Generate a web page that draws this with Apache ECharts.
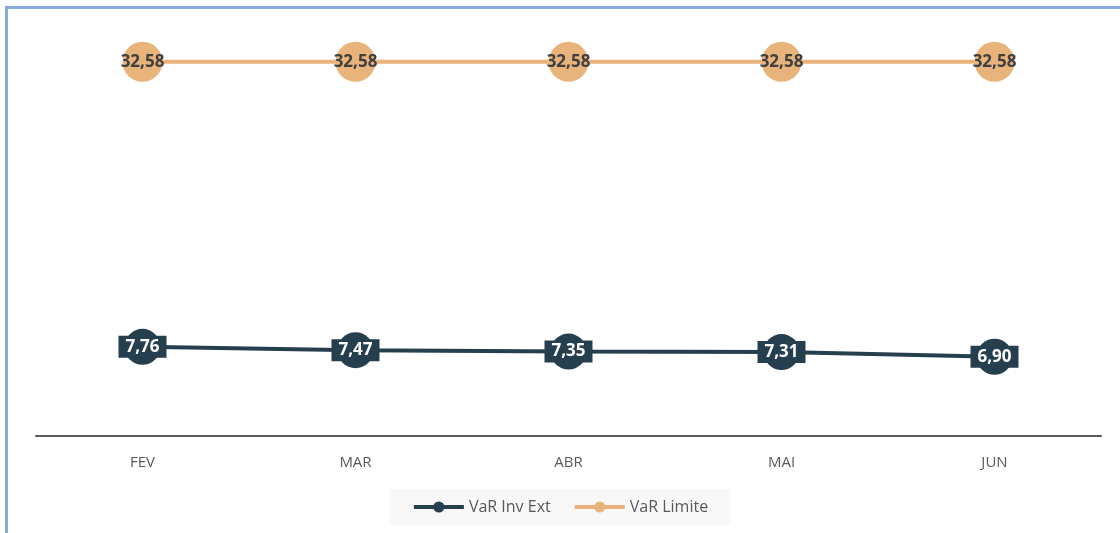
<!DOCTYPE html>
<html>
<head>
<meta charset="utf-8">
<script src="https://cdn.jsdelivr.net/npm/echarts@6/dist/echarts.min.js"></script>
<style>
  html, body { margin: 0; padding: 0; background: #fff; }
  #chart { width: 1120px; height: 533px; }
  #frame {
    position: absolute; left: 5px; top: 6px; right: -4px; bottom: -4px;
    border-top: 3px solid #86aae0; border-left: 3px solid #86aae0;
    pointer-events: none;
  }
</style>
</head>
<body>
<div id="chart"></div>
<div id="frame"></div>
<script>
const months = ['FEV', 'MAR', 'ABR', 'MAI', 'JUN'];
const varInvExt = [7.76, 7.47, 7.35, 7.31, 6.90];
const varLimite = [32.58, 32.58, 32.58, 32.58, 32.58];

const DARK = '#263f4e';
const TAN = '#e8b47c';
const fmt = v => v.toFixed(2).replace('.', ',');

const chart = echarts.init(document.getElementById('chart'));
chart.setOption({
  animation: false,
  grid: { left: 36, right: 19, top: 34, bottom: 97 },
  legend: {
    bottom: 8,
    left: 'center',
    itemWidth: 50,
    itemHeight: 14,
    itemGap: 22,
    padding: [10, 22, 10, 22],
    backgroundColor: '#f8f8f8',
    lineStyle: { width: 4 },
    textStyle: { color: '#595959', fontSize: 16, fontFamily: 'Open Sans' },
    data: ['VaR Inv Ext', 'VaR Limite']
  },
  xAxis: {
    type: 'category',
    data: months,
    boundaryGap: true,
    axisLine: { lineStyle: { color: '#5a5a5a', width: 2 } },
    axisTick: { show: false },
    axisLabel: { color: '#595959', fontSize: 15, fontFamily: 'Open Sans', margin: 19 }
  },
  yAxis: {
    type: 'value',
    min: 0,
    max: 35,
    show: false,
    splitLine: { show: false }
  },
  series: [
    {
      name: 'VaR Inv Ext',
      type: 'line',
      data: varInvExt,
      symbol: 'circle',
      symbolSize: 36,
      lineStyle: { color: DARK, width: 4 },
      itemStyle: { color: DARK },
      label: {
        show: true,
        position: 'inside',
        formatter: p => fmt(p.value),
        color: '#ffffff',
        fontSize: 17,
        fontWeight: 'bold',
        fontFamily: 'Open Sans',
        backgroundColor: DARK,
        padding: [3, 7, 2, 7]
      }
    },
    {
      name: 'VaR Limite',
      type: 'line',
      data: varLimite,
      symbol: 'circle',
      symbolSize: 40,
      lineStyle: { color: TAN, width: 4 },
      itemStyle: { color: TAN },
      label: {
        show: true,
        position: 'inside',
        formatter: p => fmt(p.value),
        color: '#404040',
        fontSize: 17,
        fontWeight: 'bold',
        fontFamily: 'Open Sans'
      }
    }
  ]
});
</script>
</body>
</html>
